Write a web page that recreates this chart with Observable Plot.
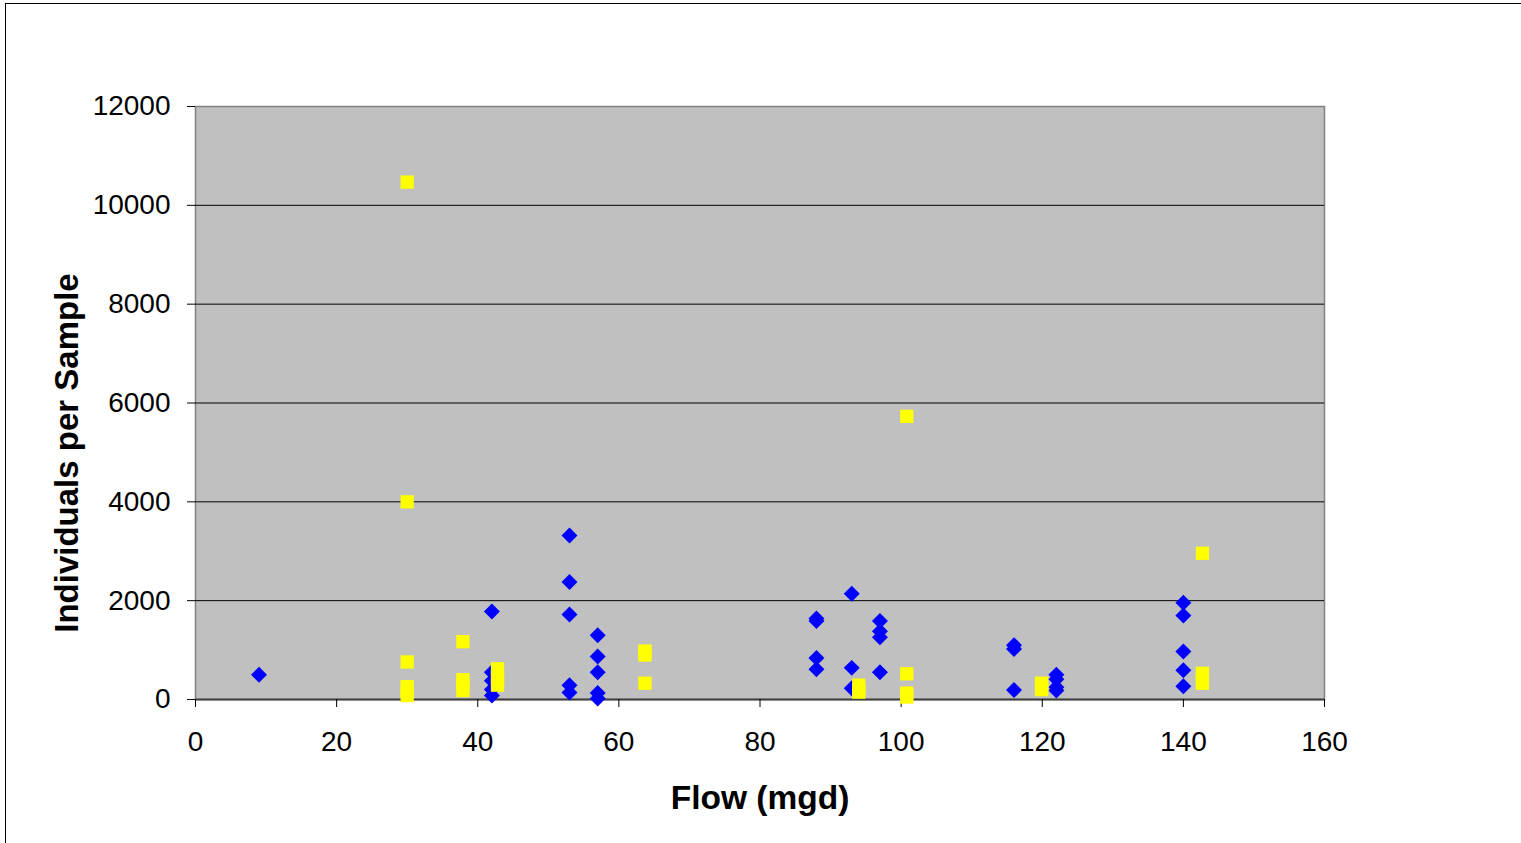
<!DOCTYPE html>
<html>
<head>
<meta charset="utf-8">
<script src="https://cdn.jsdelivr.net/npm/d3@7"></script>
<script src="https://cdn.jsdelivr.net/npm/@observablehq/plot@0.6"></script>
<style>
  html, body { margin: 0; padding: 0; background: #fff; overflow: hidden; }
  #outer { position: absolute; left: 5px; top: 3px; width: 1700px; height: 1000px;
           border-left: 1px solid #000; border-top: 1px solid #000; }
  #chart { position: absolute; left: 0; top: 0; }
</style>
</head>
<body>
<div id="outer"></div>
<div id="chart"></div>
<script>
// Series 1 (blue diamonds)
const blueFlow  = [9, 42,42,42,42,42, 53,53,53,53,53, 57,57,57,57,57, 88,88,88,88, 93,93,93, 97,97,97,97, 116,116,116, 122,122,122,122, 140,140,140,140,140];
const blueCount = [500, 1780,550,380,200,80, 3320,2380,1720,290,140, 1300,870,550,130,20, 1640,1590,840,610, 2140,640,230, 1590,1380,1260,550, 1100,1020,190, 500,410,250,180, 1960,1700,970,590,270];
// Series 2 (yellow squares)
const yellowFlow  = [30,30,30,30,30,30, 37.9,37.9,37.9,37.9, 42.8,42.8,42.8, 63.7,63.7,63.7, 94,94,94, 100.8,100.8,100.8,100.8, 119.9,119.9,119.9, 142.7,142.7,142.7,142.7];
const yellowCount = [10470,4000,760,260,160,80, 1170,400,300,180, 620,450,290, 980,900,330, 290,200,150, 5730,520,130,50, 330,250,200, 2960,530,420,330];
// Axes
const xTicks = [0,20,40,60,80,100,120,140,160];
const yTicks = [0,2000,4000,6000,8000,10000,12000];
const gridValues = [2000,4000,6000,8000,10000];
const xTitle = "Flow (mgd)";
const yTitle = "Individuals per Sample";

const blue = blueFlow.map((f, i) => ({flow: f, count: blueCount[i]}));
const yellow = yellowFlow.map((f, i) => ({flow: f, count: yellowCount[i]}));

const chart = Plot.plot({
  width: 1521,
  height: 843,
  marginLeft: 195,
  marginRight: 197,
  marginTop: 106,
  marginBottom: 144,
  style: {fontFamily: "'Liberation Sans', Arial, sans-serif", fontSize: "28px", background: "transparent", color: "#000", overflow: "visible"},
  x: {domain: [0, 160]},
  y: {domain: [0, 12000]},
  marks: [
    Plot.frame({fill: "#C0C0C0", stroke: "#808080", strokeWidth: 1.5}),
    Plot.ruleY(gridValues, {stroke: "#000", strokeWidth: 1}),
    Plot.ruleY([0], {stroke: "#404040", strokeWidth: 2}),
    Plot.axisX({ticks: xTicks, tickSize: 8, tickPadding: 24, label: null, fontSize: 28, stroke: "#000"}),
    Plot.axisY({ticks: yTicks, tickSize: 8, tickPadding: 17, tickFormat: d3.format("d"), label: null, fontSize: 28, stroke: "#000"}),
    Plot.dot(blue, {x: "flow", y: "count", symbol: "diamond2", r: 7.2, fill: "#0000FF", stroke: "none"}),
    Plot.dot(yellow, {x: "flow", y: "count", symbol: "square", r: 7.5, fill: "#FFFF00", stroke: "none"}),
    Plot.text([xTitle], {frameAnchor: "bottom", dy: 99, lineAnchor: "middle", textAnchor: "middle", fontSize: 33.5, fontWeight: "bold"}),
    Plot.text([yTitle], {frameAnchor: "left", dx: -128, dy: 50, rotate: -90, lineAnchor: "middle", textAnchor: "middle", fontSize: 33, fontWeight: "bold"})
  ]
});
document.getElementById("chart").appendChild(chart);
</script>
</body>
</html>
